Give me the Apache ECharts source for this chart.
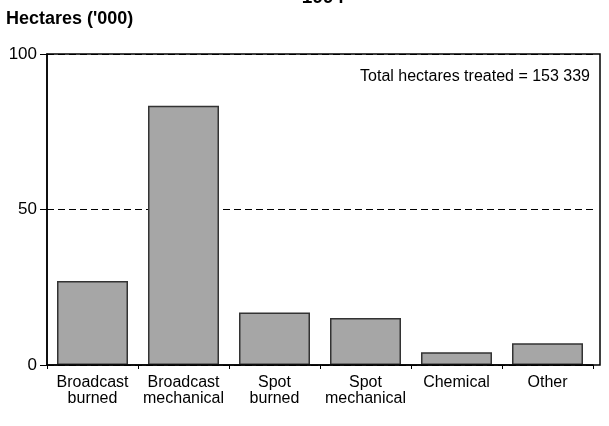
<!DOCTYPE html>
<html>
<head>
<meta charset="utf-8">
<script src="https://cdn.jsdelivr.net/npm/echarts@6/dist/echarts.min.js"></script>
<style>
  html, body { margin: 0; padding: 0; background: #fff; }
  #chart { width: 609px; height: 426px; }
</style>
</head>
<body>
<div id="chart"></div>
<script>
// data
const categories = ['Broadcast\nburned', 'Broadcast\nmechanical', 'Spot\nburned', 'Spot\nmechanical', 'Chemical', 'Other']
const hectares = [27.0, 83.4, 16.9, 15.1, 4.1, 7.0]
const yTicks = [0, 50, 100]
const titleText = '1994'
const yName = "Hectares ('000)"
const note = 'Total hectares treated = 153 339'

const font = '"Liberation Sans Narrow", "Arial Narrow", "Liberation Sans", Arial, sans-serif'

const chart = echarts.init(document.getElementById('chart'), null, { renderer: 'canvas' })

const option = {
  animation: false,
  title: [
    {
      text: titleText,
      left: 318,
      top: -17,
      textAlign: 'center',
      textStyle: { fontFamily: font, fontSize: 19, fontWeight: 'bold', color: '#000' }
    },
    {
      text: yName,
      left: 1,
      top: 5,
      textStyle: { fontFamily: font, fontSize: 18, fontWeight: 'bold', color: '#000' }
    },
    {
      text: note,
      right: 14,
      top: 64,
      textStyle: { fontFamily: font, fontSize: 16, fontWeight: 'normal', color: '#000' }
    }
  ],
  grid: { left: 47, right: 16, top: 54, bottom: 61, containLabel: false },
  xAxis: {
    type: 'category',
    data: categories,
    axisLine: { show: true, lineStyle: { color: '#000', width: 1.5 } },
    axisTick: { show: true, length: 4, lineStyle: { color: '#000' } },
    axisLabel: {
      color: '#000',
      fontFamily: font,
      fontSize: 16,
      lineHeight: 16,
      margin: 10,
      interval: 0
    },
    splitLine: { show: false }
  },
  yAxis: {
    type: 'value',
    min: yTicks[0],
    max: yTicks[yTicks.length - 1],
    interval: 50,
    axisLine: { show: true, lineStyle: { color: '#000', width: 1.5 } },
    axisTick: { show: true, length: 7, lineStyle: { color: '#000' } },
    axisLabel: { color: '#000', fontFamily: font, fontSize: 17, margin: 10 },
    splitLine: { show: true, lineStyle: { color: '#000', type: [7, 4], width: 1 } }
  },
  graphic: [
    {
      type: 'rect',
      z: 100,
      shape: { x: 47, y: 54, width: 553, height: 311 },
      style: { fill: 'none', stroke: '#000', lineWidth: 1.5 }
    }
  ],
  series: [
    {
      type: 'bar',
      data: hectares,
      barWidth: 71,
      itemStyle: { color: '#a6a6a6', borderColor: '#333', borderWidth: 1.5 }
    }
  ]
}

chart.setOption(option)
</script>
</body>
</html>
